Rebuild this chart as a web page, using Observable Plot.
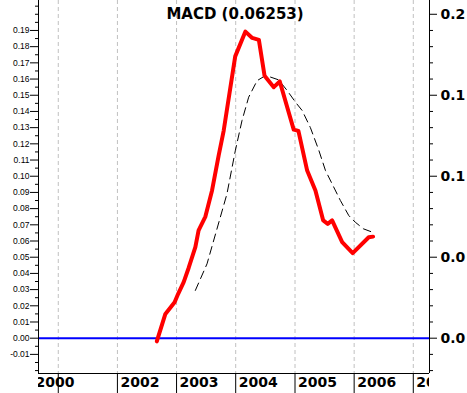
<!DOCTYPE html>
<html><head><meta charset="utf-8">
<script src="https://cdn.jsdelivr.net/npm/d3@7"></script>
<script src="https://cdn.jsdelivr.net/npm/@observablehq/plot@0.6"></script>
<style>
html,body{margin:0;padding:0;background:#fff;overflow:hidden;}
#chart svg{display:block;}
</style></head><body><div id="chart"></div>
<script>
const titleText = "MACD (0.06253)";

const macdDates = ["2002-09-01","2002-10-24","2002-12-20","2003-01-11","2003-02-14","2003-03-17","2003-04-27","2003-05-17","2003-06-28","2003-08-08","2003-09-18","2003-10-19","2003-12-29","2004-03-01","2004-04-12","2004-05-23","2004-06-27","2004-08-23","2004-09-29","2004-12-24","2005-01-22","2005-03-17","2005-05-07","2005-06-24","2005-07-22","2005-08-18","2005-10-19","2005-12-23","2006-04-01","2006-04-28"];
const macdValues = [-0.002,0.015,0.0222,0.0274,0.0346,0.0435,0.0562,0.0665,0.0751,0.0912,0.1128,0.1282,0.174,0.1893,0.1854,0.1842,0.162,0.155,0.1585,0.1288,0.128,0.1035,0.0912,0.0727,0.0706,0.0727,0.0593,0.0525,0.0623,0.0627];

const signalDates = ["2003-04-27","2003-07-08","2003-09-28","2003-11-08","2003-12-30","2004-02-09","2004-03-21","2004-05-12","2004-06-22","2004-08-03","2004-09-22","2004-11-13","2005-01-04","2005-02-14","2005-04-06","2005-05-28","2005-07-08","2005-08-18","2005-10-08","2005-11-29","2006-01-08","2006-02-28","2006-04-25"];
const signalValues = [0.0295,0.0459,0.0747,0.0891,0.116,0.1344,0.1488,0.159,0.1615,0.1612,0.1595,0.153,0.1457,0.1406,0.130,0.116,0.1035,0.0953,0.085,0.0757,0.0716,0.0675,0.0654];

const yearTickDates = ["2001-01-01","2002-01-01","2003-01-01","2004-01-01","2005-01-01","2006-01-01","2007-01-01"];
const xLabelYears = ["2000","2002","2003","2004","2005","2006","2007"];
const leftLabelTicks = [-0.01,0,0.01,0.02,0.03,0.04,0.05,0.06,0.07,0.08,0.09,0.10,0.11,0.12,0.13,0.14,0.15,0.16,0.17,0.18,0.19];
const rightLabelTicks = [0,0.05,0.10,0.15,0.20];
// the right-hand labels are cut by the picture's edge in the original: only these characters show
const rightLabelTexts = ["0.0","0.0","0.1","0.1","0.2"];

const xDomain = [new Date("2000-09-01"), new Date("2007-04-11")];
const yDomain = [-0.0218, 0.2085];

const macd = macdDates.map((d, i) => ({date: new Date(d), value: macdValues[i]}));
const signal = signalDates.map((d, i) => ({date: new Date(d), value: signalValues[i]}));
const yearTicks = yearTickDates.map(d => new Date(d));
const round3 = v => Math.round(v * 1000) / 1000;
const leftAll = d3.range(-4, 42).map(i => round3(i * 0.005));
const leftMinor = leftAll.filter(v => !leftLabelTicks.some(t => Math.abs(t - v) < 1e-9));
const rightAll = d3.range(-2, 21).map(i => round3(i * 0.01));
const rightMinor = rightAll.filter(v => !rightLabelTicks.some(t => Math.abs(t - v) < 1e-9));

const xLabels = xLabelYears.map(y => {
  const d = new Date(y + "-01-01");
  return {text: y, date: d < xDomain[0] ? xDomain[0] : d, clamped: d < xDomain[0]};
});

const fmt = d => d.toFixed(2);
const rightFmt = d => rightLabelTexts[rightLabelTicks.findIndex(t => Math.abs(t - d) < 1e-9)];

const chart = Plot.plot({
  width: 467, height: 393,
  marginLeft: 38, marginRight: 38, marginTop: 0, marginBottom: 20,
  style: {background: "#fff", overflow: "hidden"},
  x: {type: "utc", domain: xDomain},
  y: {domain: yDomain},
  marks: [
    Plot.gridX(yearTicks, {stroke: "#c0c0c0", strokeOpacity: 1, strokeDasharray: "4,3"}),
    Plot.ruleY([0], {stroke: "#0000ff", strokeWidth: 2}),
    Plot.ruleX(xDomain, {stroke: "#000"}),
    Plot.ruleY([yDomain[0]], {stroke: "#000"}),
    Plot.line(signal, {x: "date", y: "value", stroke: "#000", strokeWidth: 1, strokeDasharray: "8,5"}),
    Plot.line(macd, {x: "date", y: "value", stroke: "#ff0000", strokeWidth: 4, strokeLinejoin: "round"}),
    Plot.axisY(leftLabelTicks, {anchor: "left", tickSize: 8, tickPadding: 1, tickFormat: fmt, fontFamily: "Liberation Sans", fontSize: 8.5, label: null}),
    Plot.axisY(leftMinor, {anchor: "left", tickSize: 3, fill: "none", label: null}),
    Plot.axisY(rightLabelTicks, {anchor: "right", tickSize: 7, tickPadding: 4, tickFormat: rightFmt, fontFamily: "DejaVu Sans", fontWeight: "bold", fontSize: 14, label: null}),
    Plot.axisY(rightMinor, {anchor: "right", tickSize: 3, fill: "none", label: null}),
    Plot.axisX(yearTicks, {anchor: "bottom", tickSize: 20, fill: "none", label: null}),
    Plot.text(xLabels.filter(d => d.clamped), {x: "date", text: "text", frameAnchor: "bottom", lineAnchor: "middle", textAnchor: "start", dx: -3, dy: 9.5, fontFamily: "DejaVu Sans", fontWeight: "bold", fontSize: 14, fill: "#000", ariaDescription: "xlabels"}),
    Plot.text(xLabels.filter(d => !d.clamped), {x: "date", text: "text", frameAnchor: "bottom", lineAnchor: "middle", textAnchor: "start", dx: 3, dy: 9.5, fontFamily: "DejaVu Sans", fontWeight: "bold", fontSize: 14, fill: "#000", ariaDescription: "xlabels"}),
    Plot.text([titleText], {text: d => d, frameAnchor: "top", lineAnchor: "bottom", dx: 1, dy: 18.3, fontFamily: "DejaVu Sans", fontWeight: "bold", fontSize: 15, fill: "#000"})
  ]
});

// clip the year labels to the plotting band, as in the original
const svg = d3.select(chart);
const xs = chart.scale("x");
const x0 = Math.min(...xs.range), x1 = Math.max(...xs.range);
svg.insert("defs", ":first-child").append("clipPath").attr("id", "xlab-clip")
  .append("rect").attr("x", x0).attr("y", 373).attr("width", x1 - x0).attr("height", 20);
const wrap = svg.append("g").attr("clip-path", "url(#xlab-clip)");
svg.selectAll('[aria-description="xlabels"]').each(function() { wrap.node().appendChild(this); });

document.getElementById("chart").appendChild(chart);
</script></body></html>
